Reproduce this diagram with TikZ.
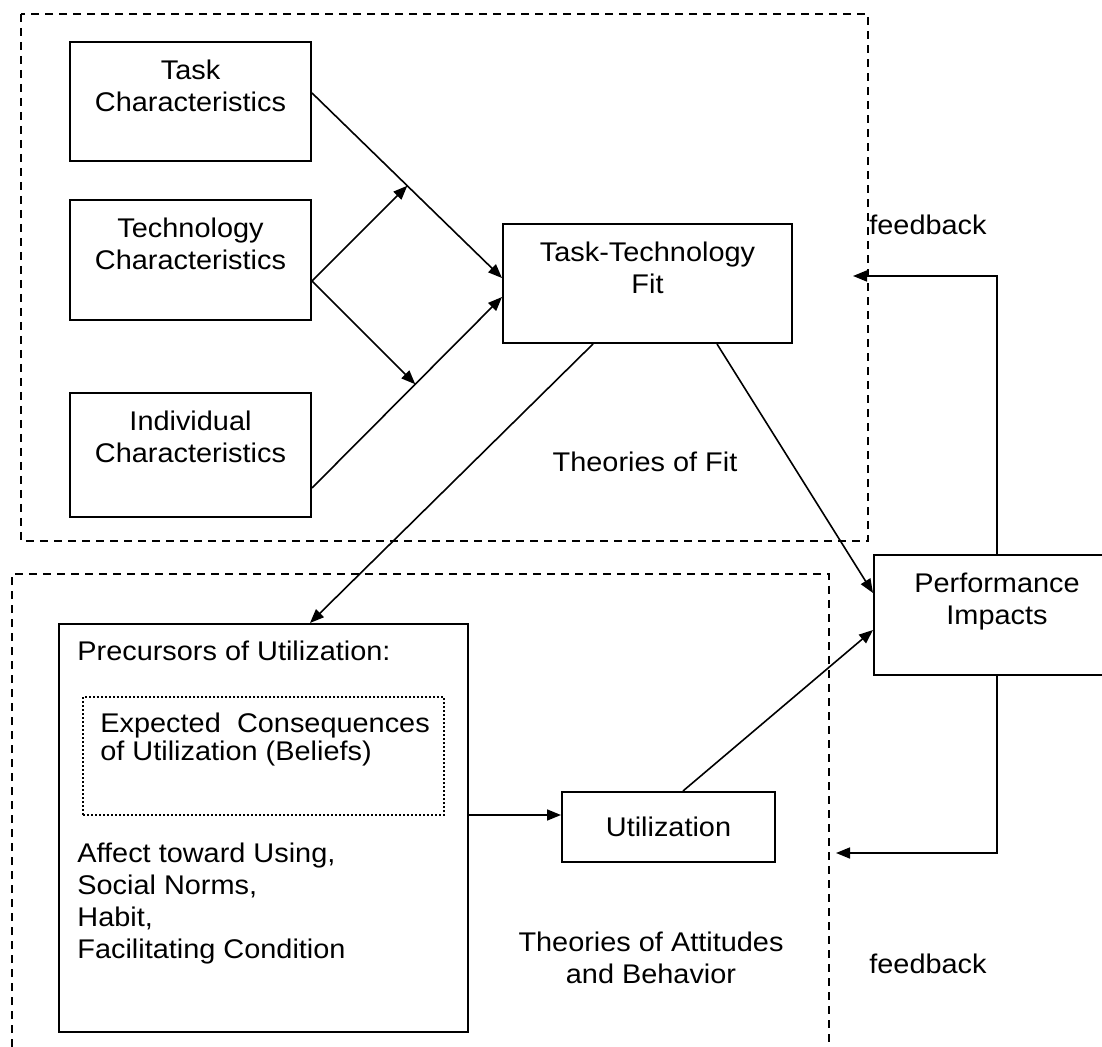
\documentclass[tikz,border=0pt]{standalone}
\usepackage{fontspec}
\setmainfont{Liberation Sans}[FakeStretch=1.07]
\usetikzlibrary{arrows.meta,positioning,calc}

\begin{document}
\begin{tikzpicture}[
    x=0.5pt, y=-0.5pt,
    every node/.style={font=\fontsize{13.5}{16}\selectfont},
    box/.style={rectangle, draw, line width=1pt, inner sep=0pt},
    boxlabel/.style={anchor=north, align=center, inner sep=0pt},
    plain/.style={anchor=base, align=center, inner sep=0pt},
    region/.style={draw, line width=1pt, dash pattern=on 4pt off 3pt},
    arr/.style={-{Triangle[length=7pt, width=5.5pt]}, line width=0.8pt}
]
\useasboundingbox (0,0) rectangle (1102,1047);
\clip (0,0) rectangle (1102,1047);

% dashed regions
\draw[region] (21,14) rectangle (868,541);
\draw[region] (12,1047) -- (12,574) -- (829,574) -- (829,1047);

% theories of fit
\node[box, minimum width=120.5pt, minimum height=59.5pt] (task) at (190.5,101.5) {};
\node[boxlabel] at ([yshift=-9.3pt]task.north) {Task\\Characteristics};
\node[box, minimum width=120.5pt, minimum height=60pt] (tech) at (190.5,260) {};
\node[boxlabel] at ([yshift=-9.3pt]tech.north) {Technology\\Characteristics};
\node[box, minimum width=120.5pt, minimum height=62pt] (indiv) at (190.5,455) {};
\node[boxlabel] at ([yshift=-9.3pt]indiv.north) {Individual\\Characteristics};
\node[box, minimum width=144.5pt, minimum height=59.5pt] (ttf) at (647.5,283.5) {};
\node[boxlabel] at ([yshift=-9.3pt]ttf.north) {Task-Technology\\Fit};
\node[plain] (fitlabel) at (645,472) {Theories of Fit};

% performance
\node[box, minimum width=123pt, minimum height=60pt] (perf) at (997,615) {};
\node[boxlabel] at ([yshift=-9.3pt]perf.north) {Performance\\Impacts};
\node[plain] (fbtoplabel) at (928,235) {feedback};
\node[plain] (fbbotlabel) at (928,973) {feedback};

% theories of attitudes
\node[box, minimum width=204.5pt, minimum height=204pt] (prec) at (263.5,828) {};
\node[anchor=base west, inner sep=0pt] (prectitle) at (77,660) {Precursors of Utilization:};
\node[box, densely dotted, line width=0.6pt, minimum width=180.5pt, minimum height=59pt] (belief) at (263.5,756) {};
\node[anchor=base west, align=left, inner sep=0pt, font=\fontsize{13.5}{14}\selectfont] (belieftext) at (100,760)
    {Expected\hspace{0.6em}Consequences\\of Utilization (Beliefs)};
\node[anchor=north west, align=left, inner sep=0pt] (affect) at (77,843)
    {Affect toward Using,\\Social Norms,\\Habit,\\Facilitating Condition};
\node[box, minimum width=106.5pt, minimum height=35pt] (util) at (668.5,827) {Utilization};
\node[plain] (attlabel) at (651,983) {Theories of Attitudes\\and Behavior};

% connectors
\coordinate (taskout) at ([shift={(0,-8.5)}]task.east);
\coordinate (ttfinA) at ([shift={(0,-5.5)}]ttf.west);
\coordinate (techout) at ([shift={(0,21)}]tech.east);
\coordinate (indivout) at ([shift={(0,33)}]indiv.east);
\coordinate (ttfinB) at ([shift={(0,13.5)}]ttf.west);
\draw[arr] (taskout) -- (ttfinA);
\draw[arr] (indivout) -- (ttfinB);
\draw[arr] (techout) -- (intersection of techout--{$(techout)+(100,-100)$} and taskout--ttfinA);
\draw[arr] (techout) -- (intersection of techout--{$(techout)+(100,100)$} and indivout--ttfinB);
\draw[arr] ([shift={(-54.5,0)}]ttf.south) -- ([shift={(46.5,0)}]prec.north);
\draw[arr] ([shift={(69.5,0)}]ttf.south) -- ([shift={(0,-22)}]perf.west);
\draw[arr] ([shift={(14.5,0)}]util.north) -- ([shift={(0,15)}]perf.west);
\draw[arr] ([shift={(0,-13)}]prec.east) -- ([shift={(0,-13)}]prec.east -| util.west);
\coordinate (fbtop) at (853,276);
\coordinate (fbbot) at (836,853);
\draw[arr] (perf.north) |- (fbtop);
\draw[arr] (perf.south) |- (fbbot);
\end{tikzpicture}
\end{document}
